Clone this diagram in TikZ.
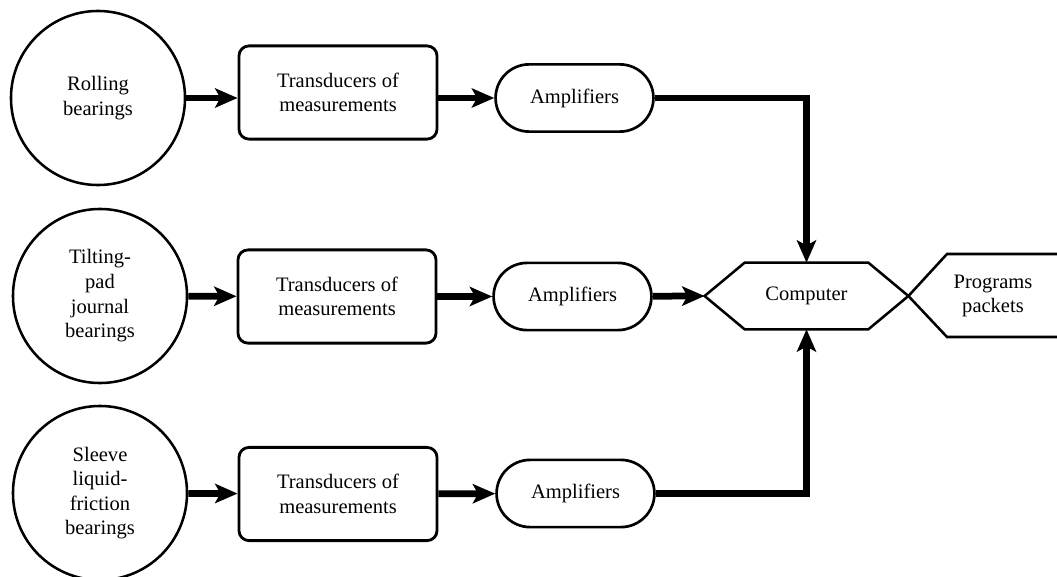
\documentclass[tikz,border=0pt]{standalone}
\usepackage{fontspec}
\setmainfont{Liberation Serif}
\usetikzlibrary{arrows.meta, shapes.misc}

\begin{document}
\begin{tikzpicture}[x=0.025cm, y=-0.025cm,
    font=\fontsize{14.6}{17.5}\selectfont,
    bearing/.style={circle, draw, line width=1.8pt, minimum size=4.35cm, align=center, inner sep=0pt},
    trans/.style={rectangle, draw, rounded corners=0.25cm, line width=2pt, minimum width=4.95cm, minimum height=2.33cm, align=center},
    amp/.style={rounded rectangle, draw, line width=1.9pt, minimum width=4.18cm, minimum height=1.68cm},
    conn/.style={line width=4.8pt, -{Stealth[length=0.56cm, width=0.48cm, inset=0.13cm]}}]
            \useasboundingbox (0,0) rectangle (1057,577);
            \node (b1) [bearing] at (98,98)   {Rolling\\bearings};
            \node (b2) [bearing] at (100,296) {Tilting-\\pad\\journal\\bearings};
            \node (b3) [bearing] at (100,493) {Sleeve\\liquid-\\friction\\bearings};
            \node (t1) [trans] at (338,92.5)  {Transducers of\\measurements};
            \node (t2) [trans] at (337,296.5) {Transducers of\\measurements};
            \node (t3) [trans] at (338,494)   {Transducers of\\measurements};
            \node (a1) [amp] at (574.5,98)    {Amplifiers};
            \node (a2) [amp] at (572.5,296.5) {Amplifiers};
            \node (a3) [amp] at (575.5,493.5) {Amplifiers};
            \node (comp) [minimum width=5.08cm, minimum height=1.65cm] at (806.5,296) {Computer};
            \node (prog) [align=center] at (993,296) {Programs\\packets};
            % computer and programs outlines
            \draw[line width=1.8pt] (comp.west) -- ([xshift=1cm]comp.north west) -- ([xshift=-1cm]comp.north east)
                -- (comp.east) -- ([xshift=-1cm]comp.south east) -- ([xshift=1cm]comp.south west) -- cycle;
            \draw[line width=1.8pt] (1062,254) -- (947,254) -- (comp.east) -- (947,337) -- (1062,337);
            % connectors
            \draw[conn] (b1) -- (b1 -| t1.west);
            \draw[conn] (b2) -- (t2);
            \draw[conn] (b3) -- (t3);
            \draw[conn] (t1.east |- a1) -- (a1);
            \draw[conn] (t2) -- (a2);
            \draw[conn] (t3) -- (a3);
            \draw[conn] (a1) -| (comp.north);
            \draw[conn] (a2) -- (comp.west);
            \draw[conn] (a3) -| (comp.south);
        \end{tikzpicture}
\end{document}
